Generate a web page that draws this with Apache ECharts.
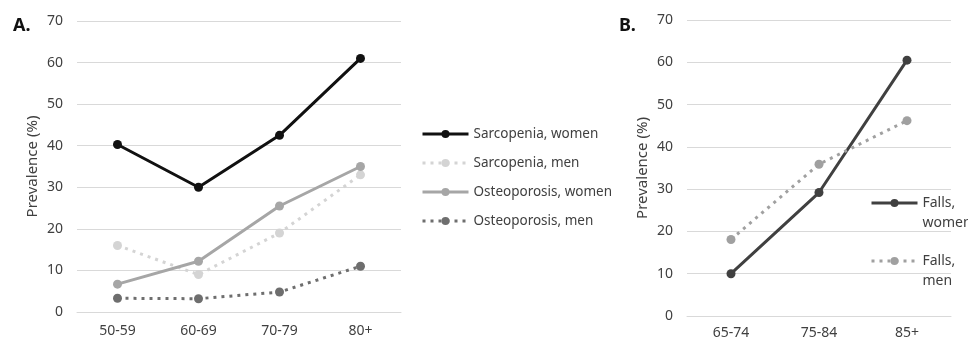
<!DOCTYPE html>
<html>
<head>
<meta charset="utf-8">
<script src="https://cdn.jsdelivr.net/npm/echarts@6/dist/echarts.min.js"></script>
<style>
  html, body { margin: 0; padding: 0; background: #fff; }
  #main { width: 968px; height: 341px; }
</style>
</head>
<body>
<div id="main"></div>
<script>
// panel A
var agesA = ["50-59", "60-69", "70-79", "80+"];
var sarcoWomen = [40.3, 30.0, 42.5, 61.0];
var sarcoMen = [16.0, 9.0, 19.0, 33.0];
var osteoWomen = [6.7, 12.2, 25.5, 35.0];
var osteoMen = [3.3, 3.2, 4.8, 11.0];
// panel B
var agesB = ["65-74", "75-84", "85+"];
var fallsWomen = [10.0, 29.2, 60.5];
var fallsMen = [18.1, 35.9, 46.2];
var yTicks = [0, 70, 10]; // min, max, step

window.onload = function () {
    var font = "Noto Sans";
    var txt = "#404040";
    var chart = echarts.init(document.getElementById("main"));

    function xAx(idx, cats, margin) {
        return {
            type: "category", gridIndex: idx, data: cats, boundaryGap: true,
            axisLine: { lineStyle: { color: "#d9d9d9", width: 1 } },
            axisTick: { show: false },
            axisLabel: { color: txt, fontSize: 14, fontFamily: font, margin: margin }
        };
    }
    function yAx(idx) {
        return {
            type: "value", gridIndex: idx, min: yTicks[0], max: yTicks[1], interval: yTicks[2],
            name: "Prevalence (%)", nameLocation: "middle", nameGap: 37,
            nameTextStyle: { color: txt, fontSize: 15, fontFamily: font },
            axisLine: { show: false }, axisTick: { show: false },
            axisLabel: { color: txt, fontSize: 14, fontFamily: font, margin: 14 },
            splitLine: { lineStyle: { color: "#d9d9d9", width: 1 } }
        };
    }
    function line(name, idx, data, color, dotted) {
        return {
            name: name, type: "line", xAxisIndex: idx, yAxisIndex: idx, data: data,
            symbol: "circle", symbolSize: 9, smooth: false,
            itemStyle: { color: color },
            lineStyle: { color: color, width: 3, type: dotted ? [3, 5] : "solid" },
            emphasis: { disabled: true }
        };
    }
    // legend for panel B: empty first line so "Falls," sits level with the icon
    function legB(name, top) {
        return {
            orient: "vertical", left: 870, top: top, padding: 0, itemWidth: 46, itemHeight: 10, itemGap: 5,
            formatter: function (n) { return " \n" + n; },
            lineStyle: { width: 3 },
            textStyle: { color: txt, fontSize: 14, fontFamily: font, lineHeight: 20 },
            data: [name]
        };
    }

    var option = {
        animation: false,
        backgroundColor: "#fff",
        title: [
            { text: "A.", left: 8, top: 12, textStyle: { fontSize: 18, fontWeight: "bold", color: "#111", fontFamily: font } },
            { text: "B.", left: 614, top: 12, textStyle: { fontSize: 18, fontWeight: "bold", color: "#111", fontFamily: font } }
        ],
        grid: [
            { left: 77, right: 567, top: 21, bottom: 29 },
            { left: 687, right: 17, top: 20, bottom: 25 }
        ],
        xAxis: [xAx(0, agesA, 12), xAx(1, agesB, 10)],
        yAxis: [yAx(0), yAx(1)],
        legend: [
            {
                orient: "vertical", left: 421, top: 125, padding: 0, itemWidth: 46, itemHeight: 10, itemGap: 11,
                lineStyle: { width: 3 },
                textStyle: { color: txt, fontSize: 13.5, fontFamily: font, lineHeight: 18 },
                data: ["Sarcopenia, women", "Sarcopenia, men", "Osteoporosis, women", "Osteoporosis, men"]
            },
            legB("Falls,\nwomen", 173),
            legB("Falls,\nmen", 231)
        ],
        series: [
            line("Sarcopenia, women", 0, sarcoWomen, "#111111", false),
            line("Sarcopenia, men", 0, sarcoMen, "#d4d4d4", true),
            line("Osteoporosis, women", 0, osteoWomen, "#a6a6a6", false),
            line("Osteoporosis, men", 0, osteoMen, "#6e6e6e", true),
            line("Falls,\nwomen", 1, fallsWomen, "#404040", false),
            line("Falls,\nmen", 1, fallsMen, "#a0a0a0", true)
        ]
    };
    chart.setOption(option);
};
</script>
</body>
</html>
